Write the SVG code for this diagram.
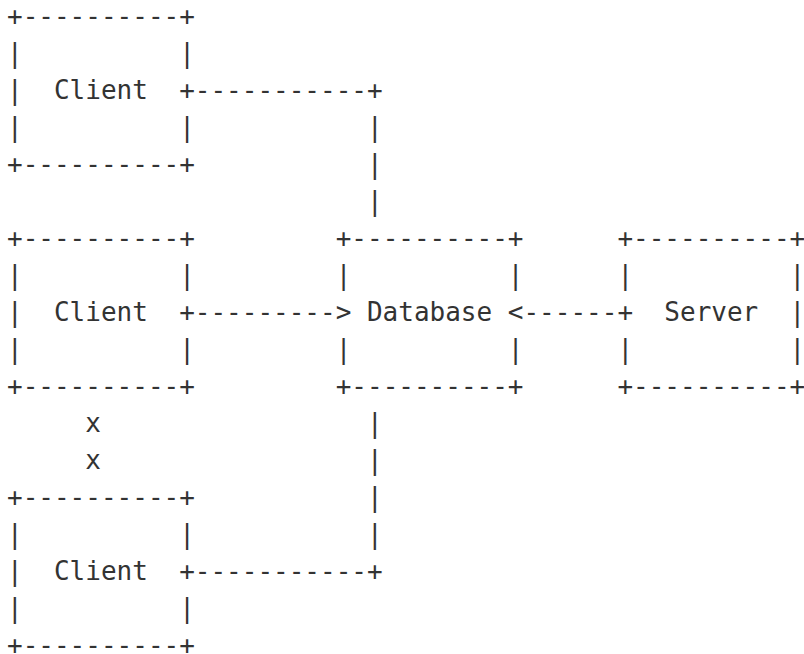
<svg xmlns="http://www.w3.org/2000/svg" width="804" height="654" viewBox="0 0 804 654" xml:space="preserve">
<style>
text { font-family: "DejaVu Sans Mono", "Liberation Mono", monospace; font-size: 26px; fill: #333333; white-space: pre; }
</style>
<rect width="804" height="654" fill="#ffffff"/>
<g id="client1">
<text x="7" y="25">+----------+</text>
<text x="7" y="62">|          |</text>
<text x="7" y="99">|  Client  +</text>
<text x="7" y="136">|          |</text>
<text x="7" y="173">+----------+</text>
</g>
<g id="client2">
<text x="7" y="247">+----------+</text>
<text x="7" y="284">|          |</text>
<text x="7" y="321">|  Client  +</text>
<text x="7" y="358">|          |</text>
<text x="7" y="395">+----------+</text>
</g>
<g id="client3">
<text x="7" y="506">+----------+</text>
<text x="7" y="543">|          |</text>
<text x="7" y="580">|  Client  +</text>
<text x="7" y="617">|          |</text>
<text x="7" y="654">+----------+</text>
</g>
<g id="database">
<text x="335.7" y="247">+----------+</text>
<text x="335.7" y="284">|          |</text>
<text x="351.3" y="321"> Database </text>
<text x="335.7" y="358">|          |</text>
<text x="335.7" y="395">+----------+</text>
</g>
<g id="server">
<text x="617.4" y="247">+----------+</text>
<text x="617.4" y="284">|          |</text>
<text x="617.4" y="321">+  Server  |</text>
<text x="617.4" y="358">|          |</text>
<text x="617.4" y="395">+----------+</text>
</g>
<g id="connectors">
<text x="194.8" y="99">-----------+</text>
<text x="367" y="136">|</text>
<text x="367" y="173">|</text>
<text x="367" y="210">|</text>
<text x="194.8" y="321">---------&gt;</text>
<text x="507.8" y="321">&lt;------</text>
<text x="85.2" y="432">x</text>
<text x="85.2" y="469">x</text>
<text x="367" y="432">|</text>
<text x="367" y="469">|</text>
<text x="367" y="506">|</text>
<text x="367" y="543">|</text>
<text x="194.8" y="580">-----------+</text>
</g>
</svg>
